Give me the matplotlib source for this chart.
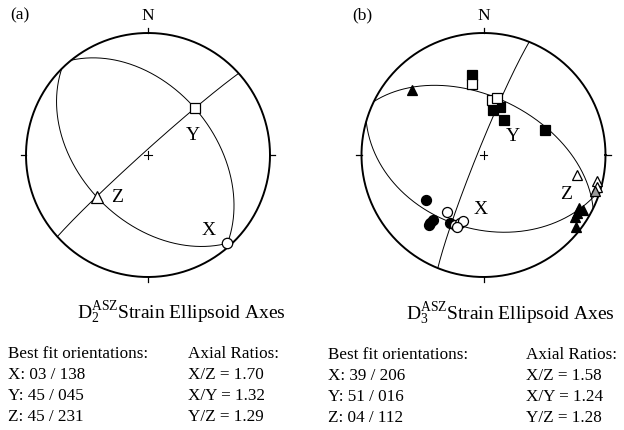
import numpy as np
import matplotlib
matplotlib.use("Agg")
import matplotlib.pyplot as plt

plt.rcParams['font.family'] = ['Liberation Serif', 'DejaVu Serif']
plt.rcParams['mathtext.fontset'] = 'custom'
plt.rcParams['mathtext.rm'] = 'Liberation Serif'
plt.rcParams['mathtext.it'] = 'Liberation Serif:italic'

# best fit axes, (trend, plunge) in degrees
d2_x = (138, 3)
d2_y = (45, 45)
d2_z = (231, 45)

d3_x = (206, 39)
d3_y = (16, 51)
d3_z = (112, 4)

# D3 sample axes, trend / plunge
d3_x_fill_trend = [232, 218, 218, 218, 206]
d3_x_fill_plunge = [40, 30, 33, 28, 38]
d3_x_open_trend = [213, 202, 199, 197, 200]
d3_x_open_plunge = [44, 38, 41, 43, 37]

d3_y_fill_trend = [352, 12, 19, 30, 68]
d3_y_fill_plunge = [34, 59, 56, 63, 45]
d3_y_open_trend = [351, 9, 13]
d3_y_open_plunge = [41, 52, 50]

d3_z_fill_trend = [312, 119, 122, 124, 119, 128]
d3_z_fill_plunge = [22, 11, 11, 10, 8, 4]
d3_z_open_trend = [102, 103, 106]
d3_z_open_plunge = [23, 5, 4]
d3_z_grey_trend = [108]
d3_z_grey_plunge = [4]

orient_a = ["X: 03 / 138", "Y: 45 / 045", "Z: 45 / 231"]
ratios_a = ["X/Z = 1.70", "X/Y = 1.32", "Y/Z = 1.29"]
orient_b = ["X: 39 / 206", "Y: 51 / 016", "Z: 04 / 112"]
ratios_b = ["X/Z = 1.58", "X/Y = 1.24", "Y/Z = 1.28"]


def project(trend, plunge):
    # lower hemisphere equal-area (Schmidt) projection
    t = np.radians(np.asarray(trend, dtype=float))
    p = np.radians(np.asarray(plunge, dtype=float))
    r = np.sqrt(2) * np.sin((np.pi / 2 - p) / 2)
    return r * np.sin(t), r * np.cos(t)


def great_circle(pole):
    trend, plunge = pole
    dd = np.radians(trend + 180)
    dip = np.radians(90 - plunge)
    s = dd - np.pi / 2
    sv = np.array([np.sin(s), np.cos(s), 0.0])
    dv = np.array([np.cos(dip) * np.sin(dd), np.cos(dip) * np.cos(dd), np.sin(dip)])
    t = np.linspace(0, np.pi, 300)
    v = np.outer(np.cos(t), sv) + np.outer(np.sin(t), dv)
    k = 1 / np.sqrt(1 + v[:, 2])
    return v[:, 0] * k, v[:, 1] * k


def net(ax):
    a = np.linspace(0, 2 * np.pi, 400)
    ax.plot(np.cos(a), np.sin(a), color='black', lw=1.4, zorder=3)
    for ang in [0, 90, 180, 270]:
        r = np.radians(ang)
        ax.plot([np.sin(r), 1.045 * np.sin(r)], [np.cos(r), 1.045 * np.cos(r)],
                color='black', lw=0.9)
    ax.plot([-0.03, 0.03], [0, 0], color='black', lw=0.8)
    ax.plot([0, 0], [-0.03, 0.03], color='black', lw=0.8)
    ax.text(0, 1.075, "N", ha='center', va='bottom', fontsize=12.5)
    ax.set_xlim(-1.2, 1.2)
    ax.set_ylim(-1.2, 1.2)
    ax.set_aspect('equal')
    ax.axis('off')


def pts(ax, trend, plunge, marker, face, size):
    x, y = project(trend, plunge)
    ax.plot(x, y, ls='none', marker=marker, ms=size, mfc=face, mec='black',
            mew=0.9, zorder=5)


fig = plt.figure(figsize=(6.24, 4.30), dpi=100)
R = 122.0


def axes_at(cx, cy):
    w = 2.4 * R
    return fig.add_axes([(cx - w / 2) / 624, 1 - (cy + w / 2) / 430, w / 624, w / 430])


# (a) D2
ax1 = axes_at(148, 155)
net(ax1)
for pole in [d2_x, d2_y, d2_z]:
    gx, gy = great_circle(pole)
    ax1.plot(gx, gy, color='black', lw=0.7)
pts(ax1, *d2_y, 's', 'white', 7.5)
pts(ax1, *d2_z, '^', 'white', 8.5)
pts(ax1, *d2_x, 'o', 'white', 7.5)
ax1.text(0.37, 0.16, "Y", fontsize=14, ha='center', va='center')
ax1.text(-0.25, -0.35, "Z", fontsize=14, ha='center', va='center')
ax1.text(0.50, -0.62, "X", fontsize=14, ha='center', va='center')

# (b) D3
ax2 = axes_at(483.5, 155)
net(ax2)
for pole in [d3_x, d3_y, d3_z]:
    gx, gy = great_circle(pole)
    ax2.plot(gx, gy, color='black', lw=0.7)
pts(ax2, d3_y_fill_trend, d3_y_fill_plunge, 's', 'black', 6.8)
pts(ax2, d3_y_open_trend, d3_y_open_plunge, 's', 'white', 7.2)
pts(ax2, d3_x_fill_trend, d3_x_fill_plunge, 'o', 'black', 7.2)
pts(ax2, d3_x_open_trend, d3_x_open_plunge, 'o', 'white', 7.2)
pts(ax2, d3_z_fill_trend, d3_z_fill_plunge, '^', 'black', 7.5)
pts(ax2, d3_z_open_trend, d3_z_open_plunge, '^', 'white', 7.5)
pts(ax2, d3_z_grey_trend, d3_z_grey_plunge, '^', '0.6', 7.5)
ax2.text(0.24, 0.15, "Y", fontsize=14, ha='center', va='center')
ax2.text(-0.02, -0.45, "X", fontsize=14, ha='center', va='center')
ax2.text(0.68, -0.32, "Z", fontsize=14, ha='center', va='center')

fig.text(20 / 624, 1 - 15 / 430, "(a)", fontsize=12.5, ha='center', va='center')
fig.text(362 / 624, 1 - 15 / 430, "(b)", fontsize=12.5, ha='center', va='center')


def table(x0, x1, xt, title, orient, ratios, y0):
    def fy(y):
        return 1 - y / 430
    fig.text(xt / 624, fy(y0), title, fontsize=14, ha='left', va='baseline')
    fig.text(x0 / 624, fy(y0 + 39), "Best fit orientations:", fontsize=12.3, va='baseline')
    fig.text(x1 / 624, fy(y0 + 39), "Axial Ratios:", fontsize=12.3, va='baseline')
    for i in range(3):
        fig.text(x0 / 624, fy(y0 + 60 + 21 * i), orient[i], fontsize=12.3, va='baseline')
        fig.text(x1 / 624, fy(y0 + 60 + 21 * i), ratios[i], fontsize=12.3, va='baseline')


table(8, 188, 77, r"D$_2^{\rm ASZ}$Strain Ellipsoid Axes", orient_a, ratios_a, 319)
table(328, 526, 406, r"D$_3^{\rm ASZ}$Strain Ellipsoid Axes", orient_b, ratios_b, 320)

fig.savefig("out.png", dpi=100)
